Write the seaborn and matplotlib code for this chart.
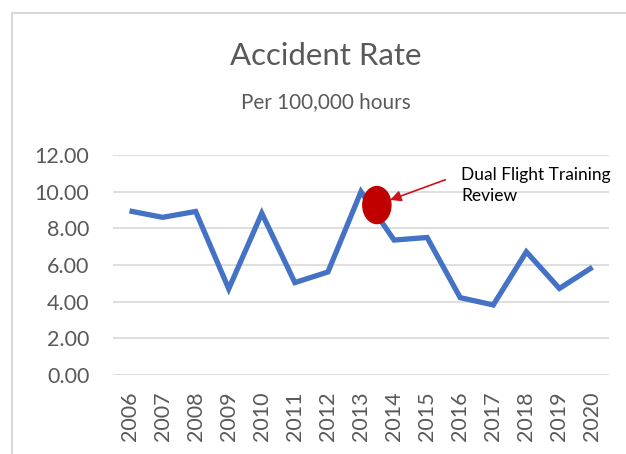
import matplotlib
matplotlib.use("Agg")
import matplotlib.pyplot as plt
from matplotlib.patches import Ellipse, Rectangle
import seaborn as sns
import pandas as pd

years = [2006, 2007, 2008, 2009, 2010, 2011, 2012, 2013, 2014, 2015, 2016, 2017, 2018, 2019, 2020]
rates = [8.95, 8.60, 8.92, 4.70, 8.82, 5.04, 5.62, 10.00, 7.36, 7.50, 4.22, 3.82, 6.72, 4.72, 5.88]
y_ticks = [0, 2, 4, 6, 8, 10, 12]
title = "Accident Rate"
subtitle = "Per 100,000 hours"
note = "Dual Flight Training\nReview"

sns.set_theme(style="white")
plt.rcParams['font.family'] = ['Lato', 'DejaVu Sans']

df = pd.DataFrame({"year": years, "rate": rates})

fig = plt.figure(figsize=(6.26, 4.54), dpi=100)
ax = fig.add_axes([113/626, 1 - 375/454, (609-113)/626, 220/454])

sns.lineplot(data=df, x="year", y="rate", ax=ax, color="#4472C4", linewidth=3.8,
             solid_joinstyle="miter", solid_capstyle="butt")

ax.set_xlim(years[0] - 0.5, years[-1] + 0.5)
ax.set_ylim(0, 12)
ax.set_yticks(y_ticks)
ax.set_yticklabels([f"{v:.2f}" for v in y_ticks], color="#595959", fontsize=15.5)
ax.set_xticks(years)
ax.set_xticklabels([str(y) for y in years], rotation=90, color="#595959", fontsize=15.5)
ax.tick_params(axis="x", length=0, pad=12)
ax.tick_params(axis="y", length=0, pad=17)
ax.set_xlabel("")
ax.set_ylabel("")
ax.grid(axis="y", color="#D9D9D9", linewidth=1.2)
ax.set_axisbelow(True)
for s in ax.spines.values():
    s.set_visible(False)

# red marker ellipse
ell = Ellipse((2013.48, 9.27), width=0.85, height=2.02, color="#C00000", zorder=5)
ax.add_patch(ell)

ax.annotate("", xy=(2013.88, 9.55), xytext=(2015.55, 10.65),
            arrowprops=dict(arrowstyle="-|>", color="#D0101A", lw=1.2,
                            mutation_scale=16, shrinkA=0, shrinkB=0), zorder=6)
ax.text(2016.03, 10.34, note, fontsize=12.5, color="black", va="center", ha="left",
        linespacing=1.44, clip_on=False)

fig.text(326/626, 1 - 56/454, title, ha="center", va="center", fontsize=22.4, color="#595959")
fig.text(326/626, 1 - 102/454, subtitle, ha="center", va="center", fontsize=14.9, color="#595959")

fig.patches.append(Rectangle((12/626, -0.1), 1.2, 1.1 - 13/454, transform=fig.transFigure,
                             fill=False, edgecolor="#D9D9D9", linewidth=1.5))

fig.savefig("out.png", dpi=100)
